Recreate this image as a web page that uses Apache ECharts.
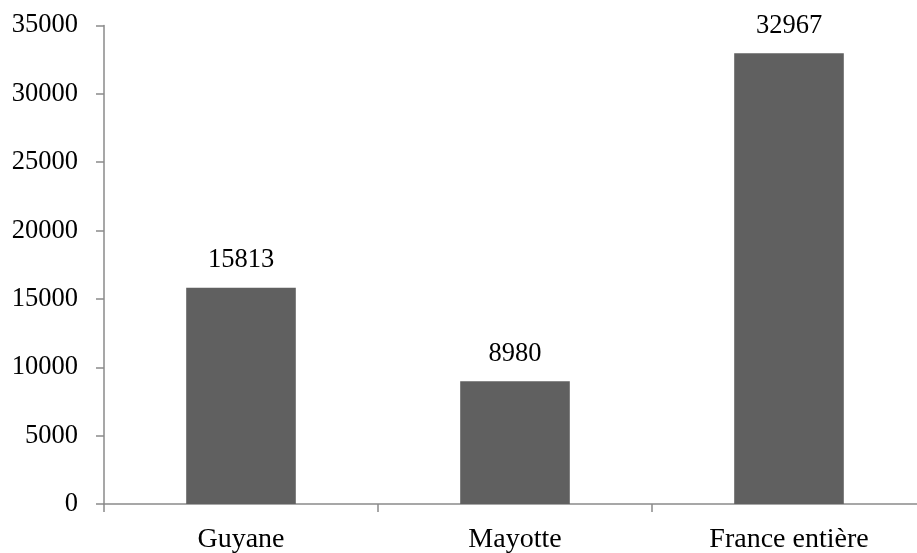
<!DOCTYPE html>
<html>
<head>
<meta charset="utf-8">
<script src="https://cdn.jsdelivr.net/npm/echarts@6/dist/echarts.min.js"></script>
<style>
  html, body { margin: 0; padding: 0; background: #fff; }
  #chart { width: 917px; height: 553px; }
</style>
</head>
<body>
<div id="chart"></div>
<script>
// Territories and their values
const categories = ['Guyane', 'Mayotte', 'France entière'];
const values = [15813, 8980, 32967];
const yTicks = { min: 0, max: 35000, interval: 5000 };

const fontFamily = '"Liberation Serif", "DejaVu Serif", serif';
const axisGray = '#8a8a8a';

const chart = echarts.init(document.getElementById('chart'), null, { renderer: 'canvas' });
chart.setOption({
  animation: false,
  backgroundColor: '#ffffff',
  // plot area runs slightly past the right edge of the canvas
  grid: { left: 104, width: 822, top: 25.5, bottom: 49, containLabel: false, outerBoundsMode: 'none' },
  xAxis: {
    type: 'category',
    data: categories,
    axisLine: { lineStyle: { color: axisGray, width: 1.5 } },
    axisTick: { show: true, length: 8, alignWithLabel: false, lineStyle: { color: axisGray, width: 1.5 } },
    axisLabel: { color: '#000', fontFamily: fontFamily, fontSize: 28, margin: 22 },
    splitLine: { show: false }
  },
  yAxis: {
    type: 'value',
    min: yTicks.min,
    max: yTicks.max,
    interval: yTicks.interval,
    axisLine: { show: true, lineStyle: { color: axisGray, width: 1.5 } },
    axisTick: { show: true, length: 8, lineStyle: { color: axisGray, width: 1.5 } },
    axisLabel: { color: '#000', fontFamily: fontFamily, fontSize: 26.5, margin: 26, formatter: v => String(v) },
    splitLine: { show: false }
  },
  series: [{
    type: 'bar',
    data: values,
    barWidth: '40%',
    itemStyle: { color: '#606060' },
    label: {
      show: true,
      position: 'top',
      distance: 14,
      color: '#000',
      fontFamily: fontFamily,
      fontSize: 26.5,
      formatter: p => String(p.value)
    }
  }]
});
</script>
</body>
</html>
